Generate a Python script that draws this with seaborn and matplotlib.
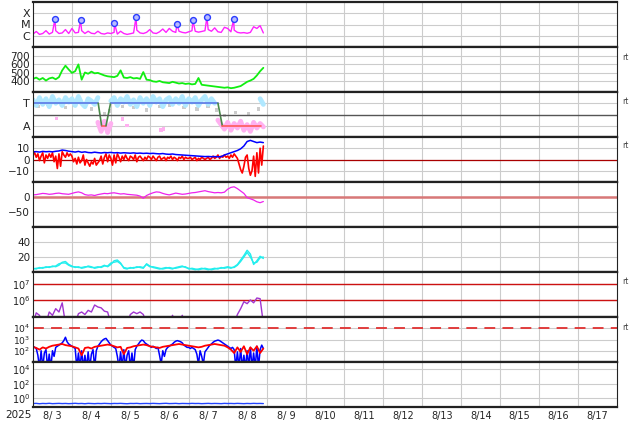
import numpy as np
import matplotlib
matplotlib.use("Agg")
import matplotlib.pyplot as plt
import seaborn as sns
from matplotlib.ticker import FixedLocator, NullLocator

sns.set_style("white")
plt.rcParams['font.family'] = ['DejaVu Sans']

# time axis: hours since 2025-08-03 00:00
hours2 = np.arange(0, 144, 2)
hours1 = np.arange(0, 143)
day_labels = ["8/%2d" % d for d in range(3, 18)]

# --- X-ray flux (log10 W/m2)
xray_log = [-5.85, -5.62, -5.88, -5.80, -5.55, -5.85, -5.70, -5.55, -5.80, -5.75, -5.45, -5.80,
            -5.35, -5.75, -5.70, -5.55, -5.80, -5.60, -5.78, -5.82, -5.60, -5.80, -5.85, -5.75,
            -5.80, -5.70, -5.85, -5.60, -5.80, -5.88, -5.82, -5.75, -5.50, -5.75, -5.80, -5.70,
            -5.45, -5.75, -5.80, -5.65, -5.40, -5.70, -5.35, -5.60, -5.70, -5.60, -5.70, -5.75,
            -5.65, -5.55, -5.60, -5.68, -5.62, -5.55, -5.45, -5.60, -5.30, -5.65, -5.70, -5.25,
            -5.35, -5.65, -5.50, -5.70, -5.75, -5.72, -5.78, -5.70, -5.20, -5.35, -5.10, -5.75]
flare_hours = [13.5, 29.3, 50.2, 63.5, 88.8, 98.6, 107.2, 123.7]
flare_log = [-4.54, -4.63, -4.89, -4.36, -4.98, -4.63, -4.36, -4.54]

# --- solar wind speed (km/s)
wind_speed = [430, 445, 420, 440, 410, 435, 445, 425, 450, 530, 585, 540,
              500, 520, 600, 420, 505, 490, 515, 495, 500, 485, 470, 460,
              455, 450, 465, 530, 445, 440, 450, 435, 440, 430, 510, 420,
              415, 400, 395, 405, 390, 385, 380, 395, 385, 375, 380, 370,
              375, 365, 370, 440, 360, 355, 350, 345, 340, 335, 330, 325,
              330, 320, 325, 335, 345, 370, 395, 410, 430, 470, 520, 560]

# --- sector (T / A)
nan = np.nan
sector_hours = [0, 40.2, 42.3, 45, 47.8, 114, 116.7, 140.7]
sector_level = [1, 1, 0, 0, 1, 1, 0, 0]
toward_band = [1.15, 0.90, 1.25, 0.95, 1.20, 0.85, 1.30, 1.00, 1.15, 0.90, 1.25, 1.05,
               1.20, 0.90, 1.30, 1.00, 0.85, 1.20, 1.10, 0.95, 1.25, nan, nan, nan,
               1.10, 1.25, 0.90, 1.20, 1.05, 1.30, 0.95, 1.15, 0.85, 1.25, 1.00, 1.20,
               0.90, 1.30, 1.05, 1.20, 0.85, 1.15, 1.25, 0.95, 1.20, 1.00, 1.30, 0.90,
               1.20, 1.05, 1.25, 0.90, 1.15, 1.30, 0.95, 1.20, 1.00, nan, nan, nan,
               nan, nan, nan, nan, nan, nan, nan, nan, nan, nan, 1.20, 0.95]
away_band = [nan] * 20 + [0.15, -0.25, 0.20, -0.30, 0.10] + [nan] * 32 + \
            [0.25, 0.05, -0.15, 0.15, -0.20, 0.10, -0.10, 0.20, -0.20, 0.05, -0.25, 0.15, -0.10, 0.10, -0.05]
gray_hours = [3, 9, 20, 25, 36, 44, 47, 55, 62, 70, 78, 84, 93, 101, 108, 113, 118, 125, 133, 139]
gray_level = [0.85, 0.95, 0.80, 0.90, 0.75, 0.55, 0.65, 0.85, 0.80, 0.70, 0.85, 0.90,
              0.80, 0.75, 0.85, 0.70, 0.45, 0.60, 0.55, 0.75]
pink_hours = [14.5, 55, 58, 79, 80.5]
pink_level = [0.32, 0.30, 0.0, -0.18, -0.15]

# --- IMF Bt / Bz (nT)
bt = [6.8, 7.0, 6.6, 7.2, 6.9, 7.1, 6.8, 7.3, 7.6, 8.4, 8.0, 7.4,
      7.0, 6.6, 7.2, 6.4, 6.8, 6.2, 6.0, 6.5, 6.1, 5.8, 6.2, 6.0,
      6.3, 5.9, 6.1, 5.7, 6.0, 5.8, 5.6, 5.9, 5.5, 5.7, 5.4, 5.6,
      5.3, 5.5, 5.2, 5.0, 5.3, 4.8, 4.6, 4.9, 4.4, 4.2, 4.0, 3.8,
      3.6, 3.4, 3.2, 3.0, 2.8, 2.6, 2.7, 2.5, 2.6, 2.4, 2.5, 4.0,
      5.0, 6.0, 7.0, 8.0, 9.5, 12.0, 16.0, 17.0, 16.0, 15.0, 15.5, 15.0]
bz = [4, 6, 2, 5, -1, 3, 6, -3, 4, 1, 5, 2, 6, -2, 3, -8, 5, -6, 7, 4, 2, 6, 3, 5,
      3, -2, 1, -4, 2, -3, -1, 4, -5, 0, -3, -6, -2, -4, 1, -5, -3, -1, 3, -4, 2, 5, -2, 4,
      1, -5, 4, -3, 5, 2, -2, 3, 0, 4, 1, -1, 3, 2, 0, 4, -2, 2, 3, 1, -1, 2, 0, 3,
      2, 0, 3, 1, -1, 2, 3, 0, 1, 2, -1, 2, 1, 3, 0, 2, 1, -1, 2, 1, 3, 0, 2, 1,
      1, 2, 0, 1, 2, -1, 1, 0, 2, 1, 0, 1, 2, 0, 1, 3, 1, 2, 4, 1, 3, 2, 4, 2,
      3, 1, 4, 2, 5, 3, 1, -4, -9, -12, -6, 2, 4, -8, -14, -10, 3, -15, 6, -12, 10, -5, 12]

# --- Dst (nT)
dst = [7, 8, 10, 12, 11, 9, 10, 12, 13, 11, 10, 9,
       12, 15, 17, 14, 8, 6, 7, 5, 8, 10, 12, 11,
       13, 14, 12, 10, 11, 9, 8, 7, 6, 3, -4, 5,
       10, 14, 17, 16, 12, 9, 7, 10, 13, 11, 9, 10,
       12, 14, 15, 17, 19, 21, 18, 16, 14, 15, 14, 16,
       26, 32, 34, 28, 20, 12, -2, -6, -10, -16, -19, -15]

# --- solar wind density (two sources)
density_a = [5, 4, 6, 5, 7, 6, 8, 7, 9, 13, 14, 10,
             8, 6, 7, 5, 6, 8, 7, 5, 6, 7, 9, 7,
             10, 15, 16, 12, 5, 4, 6, 5, 7, 6, 5, 11,
             8, 6, 5, 4, 5, 6, 5, 4, 6, 7, 8, 6,
             5, 4, 3, 4, 5, 4, 3, 4, 5, 4, 6, 5,
             6, 5, 7, 10, 16, 22, 29, 24, 10, 15, 21, 18]
density_b = [4, 5, 5, 6, 6, 7, 7, 8, 11, 12, 12, 9,
             7, 7, 6, 6, 7, 7, 6, 6, 7, 6, 8, 8,
             12, 13, 14, 11, 6, 5, 5, 6, 6, 7, 6, 10,
             7, 7, 6, 5, 4, 5, 6, 5, 5, 6, 7, 7,
             4, 5, 4, 3, 4, 5, 4, 3, 4, 5, 5, 6,
             7, 6, 6, 9, 14, 20, 26, 20, 12, 13, 19, 20]

# --- electron flux (log10)
electron_log = [4.6, 5.25, 5.1, 4.6, 4.6, 5.3, 5.1, 5.5, 5.3, 5.85, 4.6, 4.6,
                4.6, 4.6, 5.2, 5.3, 5.15, 5.4, 5.3, 5.72, 5.6, 5.55, 5.35, 5.3,
                4.6, 4.6, 4.6, 4.6, 4.6, 4.6, 5.15, 5.3, 5.2, 5.3, 5.15, 4.6,
                4.6, 4.6, 4.6, 4.6, 4.6, 4.6, 4.6, 5.1, 4.6, 4.6, 5.1, 4.6,
                4.6, 4.6, 4.6, 4.6, 4.6, 4.6, 4.6, 4.6, 4.6, 4.6, 4.6, 4.6,
                4.6, 4.6, 4.6, 5.15, 5.5, 5.92, 5.8, 6.02, 5.85, 6.14, 6.1, 4.6]

# --- energetic particles (log10), blue hourly, red two-hourly
particle_blue_log = [2.4, 2.3, 2.2, 1.6, 0.5, 2.0, 0.5, 1.8, 2.1, 0.5, 1.7, 0.5, 2.0, 1.5,
                     2.3, 2.4, 2.5, 2.6, 2.7, 2.9, 3.2, 2.8, 2.6, 2.5,
                     2.4, 2.3, 2.2, 0.5, 1.8, 0.5, 2.0, 0.5, 1.6, 0.5, 1.9, 0.5, 1.7, 2.1, 0.5, 2.0,
                     2.4, 2.6, 2.8, 2.95, 3.05, 3.1, 2.9, 2.7,
                     2.5, 2.4, 2.3, 2.2, 1.5, 0.5, 1.9, 0.5, 2.1, 0.5, 1.6, 2.0, 0.5, 1.8, 0.5, 2.1,
                     2.4, 2.6, 2.8, 2.95, 2.9, 2.7, 2.6, 2.5,
                     2.4, 2.3, 2.4, 2.3, 2.2, 2.3, 1.6, 0.8, 2.0, 1.5, 2.1,
                     2.3, 2.4, 2.5, 2.6, 2.75, 2.85, 2.9, 2.85, 2.8, 2.7, 2.5, 2.4, 2.3,
                     2.3, 2.2, 2.3, 2.2, 2.1, 1.7, 0.8, 2.0, 1.5, 0.8, 1.9, 2.1,
                     2.3, 2.5, 2.6, 2.75, 2.85, 2.9, 2.95, 2.9, 2.8, 2.7, 2.6, 2.5,
                     2.4, 2.3, 2.2, 2.3, 2.1, 0.5, 1.9, 0.5, 2.2, 0.5, 1.6, 0.5, 2.0, 0.5, 2.3,
                     0.5, 1.8, 0.5, 2.4, 0.5, 2.1, 2.5, 2.2]
particle_red_log = [2.35, 2.25, 2.1, 2.3, 2.2, 2.35, 2.45, 2.5, 2.55, 2.6, 2.5, 2.45,
                    2.4, 2.3, 2.2, 1.6, 2.25, 2.3, 2.2, 2.35, 2.4, 2.45, 2.5, 2.55,
                    2.5, 2.4, 2.3, 2.35, 1.7, 2.25, 2.3, 2.4, 2.45, 2.5, 2.55, 2.5,
                    2.4, 2.35, 2.3, 2.25, 2.35, 2.4, 2.45, 2.5, 2.55, 2.6, 2.55, 2.5,
                    2.45, 2.4, 2.35, 2.3, 2.35, 2.45, 2.5, 2.55, 2.6, 2.55, 2.5, 2.45,
                    2.3, 2.1, 1.8, 2.3, 1.9, 2.4, 1.7, 2.3, 2.0, 2.4, 1.8, 2.2]

# --- proton flux (log10)
proton_log = [-0.72, -0.70, -0.75, -0.71, -0.73, -0.69, -0.74, -0.72, -0.70, -0.73, -0.71, -0.74,
              -0.72, -0.69, -0.73, -0.71, -0.75, -0.70, -0.72, -0.74, -0.71, -0.73, -0.70, -0.72,
              -0.74, -0.71, -0.72, -0.70, -0.73, -0.75, -0.71, -0.72, -0.70, -0.74, -0.72, -0.71,
              -0.73, -0.70, -0.72, -0.74, -0.71, -0.69, -0.73, -0.72, -0.70, -0.74, -0.71, -0.72,
              -0.73, -0.70, -0.72, -0.71, -0.74, -0.72, -0.70, -0.73, -0.71, -0.72, -0.74, -0.70,
              -0.72, -0.71, -0.73, -0.70, -0.72, -0.74, -0.71, -0.73, -0.70, -0.72, -0.71, -0.73]


def nan_runs(vals):
    vals = np.asarray(vals, dtype=float)
    ok = ~np.isnan(vals)
    return ok, np.cumsum(~ok)


fig = plt.figure(figsize=(6.34, 4.24), dpi=100)
axes = []
for i in range(9):
    top = 2 + 45 * i
    ax = fig.add_axes([33 / 634, 1 - (top + 45) / 424, 584 / 634, 45 / 424])
    axes.append(ax)

# panel 1: X-ray
ax = axes[0]
xr_h = np.concatenate([hours2, flare_hours])
xr_v = np.concatenate([xray_log, flare_log])
order = np.argsort(xr_h)
sns.lineplot(x=xr_h[order], y=10 ** xr_v[order], ax=ax, color="#ff22ff", linewidth=1, estimator=None, sort=False)
sns.scatterplot(x=flare_hours, y=10 ** np.array(flare_log), ax=ax, marker="o", s=18,
                facecolor="#b8bcff", edgecolor="#2a3cff", linewidth=1, zorder=5)
ax.set_yscale("log")
ax.set_ylim(1e-7, 1e-3)
ax.yaxis.set_major_locator(FixedLocator([1e-6, 1e-5, 1e-4]))
ax.set_yticklabels(["C", "M", "X"])

# panel 2: wind speed
ax = axes[1]
sns.lineplot(x=hours2, y=wind_speed, ax=ax, color="#11ee11", linewidth=1.3, estimator=None)
ax.set_ylim(275, 805)
ax.yaxis.set_major_locator(FixedLocator([400, 500, 600, 700]))

# panel 3: sector
ax = axes[2]
ok, seg = nan_runs(toward_band)
sns.lineplot(x=hours2[ok], y=np.asarray(toward_band)[ok], units=seg[ok], estimator=None, ax=ax,
             color="#b0e8ff", linewidth=3.5)
ok, seg = nan_runs(away_band)
sns.lineplot(x=hours2[ok], y=np.asarray(away_band)[ok], units=seg[ok], estimator=None, ax=ax,
             color="#ffb0f0", linewidth=3.5)
sns.scatterplot(x=gray_hours, y=gray_level, ax=ax, color="#cccccc", s=6, marker="s", edgecolor="none")
sns.scatterplot(x=pink_hours, y=pink_level, ax=ax, color="#ffb0f0", s=6, marker="s", edgecolor="none")
for k in range(len(sector_hours) - 1):
    a, b = sector_level[k], sector_level[k + 1]
    col = "#5a78e6" if a == b == 1 else ("#ff5a5a" if a == b == 0 else "#4a8a4a")
    sns.lineplot(x=sector_hours[k:k + 2], y=sector_level[k:k + 2], ax=ax, color=col,
                 linewidth=1.2, estimator=None, sort=False)
ax.axhline(0.5, color="#555555", linewidth=1)
ax.set_ylim(-0.5, 1.5)
ax.yaxis.set_major_locator(FixedLocator([0, 1]))
ax.set_yticklabels(["A", "T"])

# panel 4: IMF
ax = axes[3]
ax.axhline(0, color="#aa0000", linewidth=0.9)
sns.lineplot(x=hours1, y=bz, ax=ax, color="#ff0000", linewidth=1.2, estimator=None)
sns.lineplot(x=hours2, y=bt, ax=ax, color="#0000ff", linewidth=1.1, estimator=None)
ax.set_ylim(-20, 20)
ax.yaxis.set_major_locator(FixedLocator([-10, 0, 10]))
ax.set_yticklabels(["\u221210", "0", "10"])

# panel 5: Dst
ax = axes[4]
ax.axhline(0, color="#d87878", linewidth=1.8)
sns.lineplot(x=hours2, y=dst, ax=ax, color="#ee22ee", linewidth=0.9, estimator=None)
ax.set_ylim(-100, 50)
ax.yaxis.set_major_locator(FixedLocator([-50, 0]))
ax.set_yticklabels(["\u221250", "0"])

# panel 6: density
ax = axes[5]
sns.lineplot(x=hours2, y=density_a, ax=ax, color="#22eeee", linewidth=1, estimator=None)
sns.lineplot(x=hours2, y=density_b, ax=ax, color="#22eeee", linewidth=1, estimator=None)
ax.set_ylim(0, 60)
ax.yaxis.set_major_locator(FixedLocator([20, 40]))

# panel 7: electrons
ax = axes[6]
ax.axhline(1e6, color="#cc1111", linewidth=1)
ax.axhline(1e7, color="#cc1111", linewidth=1)
sns.lineplot(x=hours2, y=10 ** np.array(electron_log), ax=ax, color="#a035d0", linewidth=1, estimator=None)
ax.set_yscale("log")
ax.set_ylim(1e5, 10 ** 7.7)
ax.yaxis.set_major_locator(FixedLocator([1e6, 1e7]))
ax.set_yticklabels([r"$10^{6}$", r"$10^{7}$"])

# panel 8: particles
ax = axes[7]
ax.axhline(1e4, color="#e03030", linewidth=1.3, dashes=(6, 4))
sns.lineplot(x=hours1, y=10 ** np.array(particle_blue_log), ax=ax, color="#0000ff", linewidth=1.1, estimator=None)
sns.lineplot(x=hours2, y=10 ** np.array(particle_red_log), ax=ax, color="#ff0000", linewidth=1.3, estimator=None)
ax.set_yscale("log")
ax.set_ylim(1e1, 1e5)
ax.yaxis.set_major_locator(FixedLocator([1e2, 1e3, 1e4]))
ax.set_yticklabels([r"$10^{2}$", r"$10^{3}$", r"$10^{4}$"])

# panel 9: protons
ax = axes[8]
sns.lineplot(x=hours2, y=10 ** np.array(proton_log), ax=ax, color="#2244ff", linewidth=1, estimator=None)
ax.set_yscale("log")
ax.set_ylim(10 ** -1.2, 1e5)
ax.yaxis.set_major_locator(FixedLocator([1e0, 1e2, 1e4]))
ax.set_yticklabels([r"$10^{0}$", r"$10^{2}$", r"$10^{4}$"])

label_sizes = [8, 7.5, 8, 7.5, 7.5, 7.5, 7, 6.6, 7]
for i, ax in enumerate(axes):
    ax.set_xlim(0, 360)
    ax.xaxis.set_major_locator(FixedLocator(np.arange(24, 360, 24)))
    ax.yaxis.set_minor_locator(NullLocator())
    ax.grid(True, which="major", color="#cccccc", linewidth=0.8)
    ax.set_axisbelow(True)
    ax.set_xlabel("")
    ax.set_ylabel("")
    ax.tick_params(axis="x", which="both", length=0, labelbottom=False)
    ax.tick_params(axis="y", which="both", length=0, pad=2, colors="#222222", labelsize=label_sizes[i])
    for s in ["top", "bottom"]:
        ax.spines[s].set_linewidth(1.6)
        ax.spines[s].set_color("#222222")
    for s in ["left", "right"]:
        ax.spines[s].set_linewidth(0.8)
        ax.spines[s].set_color("#222222")

ax = axes[8]
ax.set_xticks(np.arange(12, 360, 24), minor=True)
ax.set_xticklabels(day_labels, minor=True)
ax.tick_params(axis="x", which="minor", length=0, labelbottom=True, labelsize=7, pad=3)
ax.tick_params(axis="x", which="major", length=2, direction="in", labelbottom=False)

fig.text(18 / 634, 1 - 415 / 424, "2025", fontsize=7.5, ha="center", va="center", color="#222222")
for y in [57, 101, 146, 282, 327]:
    fig.text(625 / 634, 1 - y / 424, "rt", fontsize=5.5, ha="center", va="center", color="#444444")

fig.savefig("out.png", dpi=100)
